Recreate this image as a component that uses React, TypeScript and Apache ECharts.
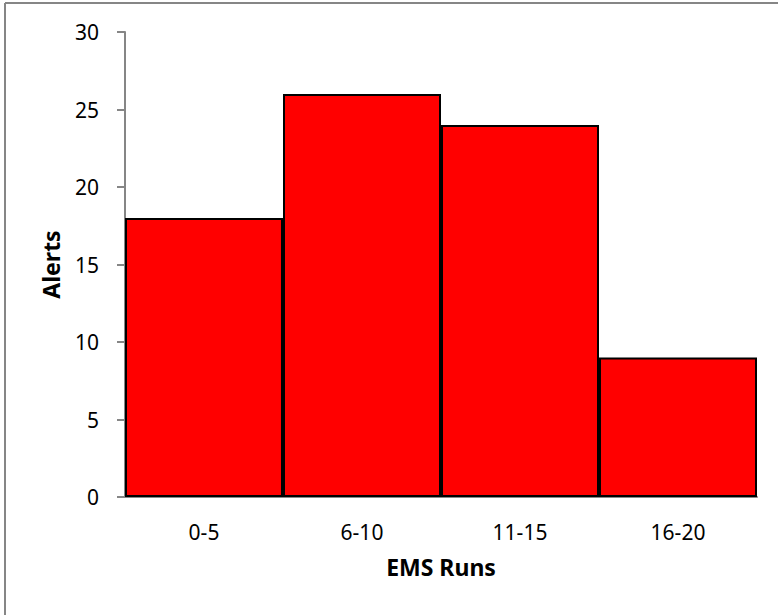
import React, { useEffect, useRef } from "react";
import * as echarts from "echarts";

const categories = ["0-5", "6-10", "11-15", "16-20"];
const alerts = [18, 26, 24, 9];

export default function App() {
  const ref = useRef<HTMLDivElement>(null);

  useEffect(() => {
    document.body.style.margin = "0";
    const chart = echarts.init(ref.current!, null, { renderer: "svg" });
    const font = "'Noto Sans', 'Open Sans', sans-serif";
    const frame = { stroke: "#868686", lineWidth: 2 };
    chart.setOption({
      animation: false,
      backgroundColor: "#ffffff",
      graphic: [
        { type: "line", shape: { x1: 5, y1: 3, x2: 778, y2: 3 }, style: frame, silent: true },
        { type: "line", shape: { x1: 5, y1: 3, x2: 5, y2: 615 }, style: frame, silent: true },
      ],
      grid: { left: 125, right: 21, top: 32, bottom: 118 },
      xAxis: {
        type: "category",
        data: categories,
        name: "EMS Runs",
        nameLocation: "middle",
        nameGap: 58,
        nameTextStyle: { fontFamily: font, fontSize: 23, fontWeight: "bold", color: "#000" },
        axisLine: { lineStyle: { color: "#868686", width: 2 } },
        axisTick: { length: 9, lineStyle: { color: "#868686", width: 2 } },
        axisLabel: { fontFamily: font, fontSize: 21, color: "#000", margin: 24 },
      },
      yAxis: {
        type: "value",
        min: 0,
        max: 30,
        interval: 5,
        name: "Alerts",
        nameLocation: "middle",
        nameGap: 63,
        nameTextStyle: { fontFamily: font, fontSize: 23, fontWeight: "bold", color: "#000" },
        axisLine: { show: true, lineStyle: { color: "#868686", width: 2 } },
        axisTick: { show: true, length: 8, lineStyle: { color: "#868686", width: 2 } },
        axisLabel: { fontFamily: font, fontSize: 21, color: "#000", margin: 26 },
        splitLine: { show: false },
      },
      series: [
        {
          type: "bar",
          data: alerts,
          barCategoryGap: "0%",
          itemStyle: { color: "#ff0000", borderColor: "#000000", borderWidth: 2 },
        },
      ],
    });
    return () => chart.dispose();
  }, []);

  return <div ref={ref} style={{ width: 778, height: 615 }} />;
}
